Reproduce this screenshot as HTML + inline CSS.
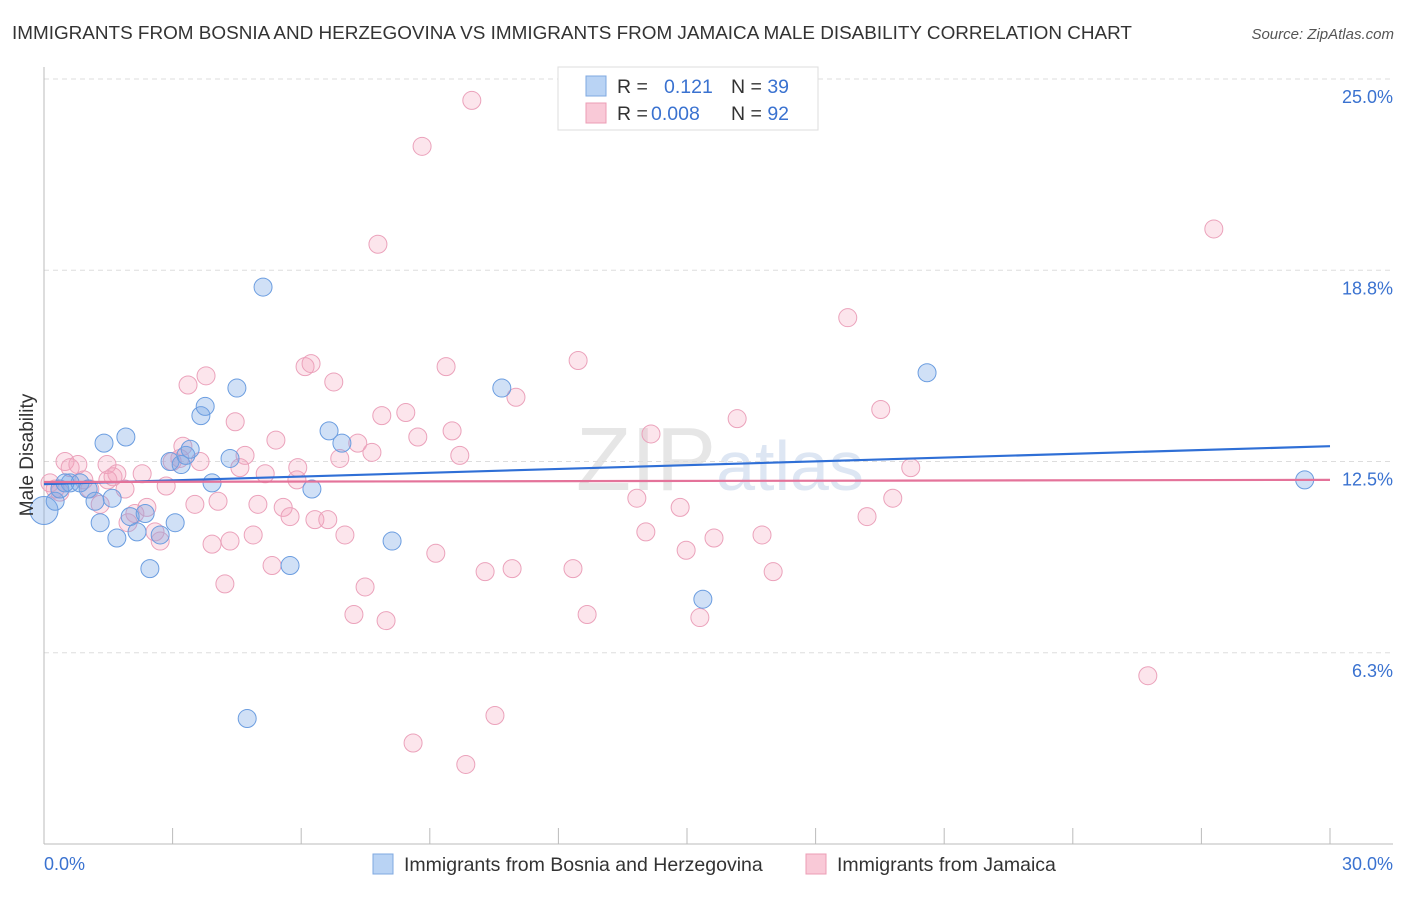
<!DOCTYPE html>
<html><head><meta charset="utf-8"><style>
body{margin:0;background:#fff;font-family:"Liberation Sans",sans-serif;}
svg text{font-family:"Liberation Sans",sans-serif;}
</style></head><body>
<svg id="chart" width="1406" height="892" viewBox="0 0 1406 892" xmlns="http://www.w3.org/2000/svg">
<text x="12" y="39" font-size="18.9" fill="#333">IMMIGRANTS FROM BOSNIA AND HERZEGOVINA VS IMMIGRANTS FROM JAMAICA MALE DISABILITY CORRELATION CHART</text>
<text x="1394" y="39" font-size="15" fill="#555" font-style="italic" text-anchor="end">Source: ZipAtlas.com</text>
<text x="720" y="490" font-size="90" fill="#e6e6e6" text-anchor="middle" font-family="Liberation Serif">ZIP<tspan fill="#dde6f3" font-family="Liberation Sans" font-size="70">atlas</tspan></text>
<g id="grid"></g>
<g id="axes"></g>
<g id="pts"></g>
<g id="trend"></g>
<text x="33" y="455" font-size="19" fill="#333" text-anchor="middle" transform="rotate(-90 33 455)">Male Disability</text>
<g>
<rect x="558" y="67" width="260" height="63" fill="#fff" stroke="#ddd"/>
<rect x="586" y="76" width="20" height="20" fill="#b9d3f4" stroke="#7fa8e0"/>
<rect x="586" y="103" width="20" height="20" fill="#f9c9d7" stroke="#ec9db5"/>
<text x="617" y="93" font-size="19.5" fill="#333">R = <tspan x="664" fill="#3a72d0">0.121</tspan><tspan x="731" fill="#333">N = </tspan><tspan fill="#3a72d0">39</tspan></text>
<text x="617" y="120" font-size="19.5" fill="#333">R = <tspan x="651" fill="#3a72d0">0.008</tspan><tspan x="731" fill="#333">N = </tspan><tspan fill="#3a72d0">92</tspan></text>
</g>
<g>
<rect x="373" y="854" width="20" height="20" fill="#b9d3f4" stroke="#7fa8e0"/>
<text x="404" y="871" font-size="19.5" fill="#333">Immigrants from Bosnia and Herzegovina</text>
<rect x="806" y="854" width="20" height="20" fill="#f9c9d7" stroke="#ec9db5"/>
<text x="837" y="871" font-size="19.5" fill="#333">Immigrants from Jamaica</text>
</g>
</svg>
<script>
const xTicks=[0,3,6,9,12,15,18,21,24,27,30];
const yTicks=[6.25,12.5,18.75,25];
const yTickLabels=["6.3%","12.5%","18.8%","25.0%"];
const xEndLabels=["0.0%","30.0%"];
const blueX=[0.00,0.26,0.37,0.61,0.84,1.03,1.19,1.31,1.40,1.59,1.70,1.91,2.01,2.17,2.36,2.47,2.71,2.94,3.06,3.20,3.31,3.41,3.66,3.76,3.92,4.34,4.50,4.74,5.11,5.74,6.25,6.65,6.95,8.12,10.68,15.37,20.60,29.41,0.49];
const blueY=[10.9,11.2,11.6,11.8,11.8,11.6,11.2,10.5,13.1,11.3,10.0,13.3,10.7,10.2,10.8,9.0,10.1,12.5,10.5,12.4,12.7,12.9,14.0,14.3,11.8,12.6,14.9,4.1,18.2,9.1,11.6,13.5,13.1,9.9,14.9,8.0,15.4,11.9,11.8];
const pinkX=[0.14,0.26,0.37,0.49,0.61,0.79,0.93,1.07,1.31,1.47,1.61,1.70,1.89,1.96,2.12,2.29,2.40,2.59,2.71,2.85,2.99,3.17,3.24,3.36,3.52,3.64,3.78,3.92,4.06,4.22,4.34,4.46,4.57,4.69,4.88,4.99,5.16,5.32,5.41,5.58,5.74,5.90,5.92,6.09,6.23,6.32,6.62,6.76,6.90,7.02,7.23,7.32,7.49,7.65,7.79,7.88,7.98,8.44,8.61,8.72,8.82,9.14,9.38,9.52,9.70,9.84,9.98,10.29,10.52,10.92,11.01,12.34,12.46,12.67,13.83,14.04,14.16,14.84,14.98,15.30,15.63,16.17,16.75,17.01,18.75,19.20,19.52,19.80,20.22,25.75,27.29,1.49];
const pinkY=[11.8,11.6,11.5,12.5,12.3,12.4,11.9,11.6,11.1,12.4,12.0,12.1,11.6,10.5,10.8,12.1,11.0,10.2,9.9,11.7,12.5,12.6,13.0,15.0,11.1,12.5,15.3,9.8,11.2,8.5,9.9,13.8,12.3,12.7,10.1,11.1,12.1,9.1,13.2,11.0,10.7,11.9,12.3,15.6,15.7,10.6,10.6,15.1,12.6,10.1,7.5,13.1,8.4,12.8,19.6,14.0,7.3,14.1,3.3,13.3,22.8,9.5,15.6,13.5,12.7,2.6,24.3,8.9,4.2,9.0,14.6,9.0,15.8,7.5,11.3,10.2,13.4,11.0,9.6,7.4,10.0,13.9,10.1,8.9,17.2,10.7,14.2,11.3,12.3,5.5,20.1,11.9];
const blueTrend=[11.76,13.0];
const pinkTrend=[11.83,11.9];

const NS="http://www.w3.org/2000/svg";
const X0=44,X1=1330,Y0=844,Y25=79;
const sx=v=>X0+(v/30)*(X1-X0);
const sy=v=>Y0-(v/25)*(Y0-Y25);
function mk(tag,attrs,parent){const e=document.createElementNS(NS,tag);for(const k in attrs)e.setAttribute(k,attrs[k]);parent.appendChild(e);return e;}
const grid=document.getElementById('grid'),axes=document.getElementById('axes'),pts=document.getElementById('pts'),trend=document.getElementById('trend');
yTicks.forEach((t,i)=>{
  const l=mk('line',{x1:X0,x2:1393,y1:sy(t),y2:sy(t),stroke:'#ddd','stroke-dasharray':'5,4'},grid);
  
  
  const tx=mk('text',{x:1393,y:sy(t)+24,'font-size':18,fill:'#3a72d0','text-anchor':'end'},grid);
  tx.textContent=yTickLabels[i];
  
  
});
const ax=mk('line',{x1:X0,x2:X0,y1:67,y2:Y0,stroke:'#bbb'},axes);


const bx=mk('line',{x1:X0,x2:1393,y1:Y0,y2:Y0,stroke:'#bbb'},axes);


xTicks.forEach(t=>{
  const l=mk('line',{x1:sx(t),x2:sx(t),y1:828,y2:Y0,stroke:'#bbb'},axes);
  
  
});
[[0,'start',X0],[30,'end',1393]].forEach((a,i)=>{
  const tx=mk('text',{x:a[2],y:870,'font-size':18,fill:'#3a72d0','text-anchor':a[1]},axes);
  tx.textContent=xEndLabels[i];
  
  
});
function drawSeries(xs,ys,fill,stroke,name){
  xs.forEach((x,i)=>{
    const r=(i===0&&name==='bosnia-point')?14:9;
    const c=mk('circle',{cx:sx(x),cy:sy(ys[i]),r:r,fill:fill,stroke:stroke,'stroke-width':1},pts);
    
    
  });
}
drawSeries(pinkX,pinkY,'rgba(244,160,188,0.28)','#eba2bb','jamaica-point');
drawSeries(blueX,blueY,'rgba(120,165,230,0.35)','#6b9de0','bosnia-point');
const bl=mk('line',{x1:sx(0),x2:sx(30),y1:sy(blueTrend[0]),y2:sy(blueTrend[1]),stroke:'#2f6fd6','stroke-width':2.2},trend);


const pl=mk('line',{x1:sx(0),x2:sx(30),y1:sy(pinkTrend[0]),y2:sy(pinkTrend[1]),stroke:'#e4739a','stroke-width':2.2},trend);


</script>
</body></html>
